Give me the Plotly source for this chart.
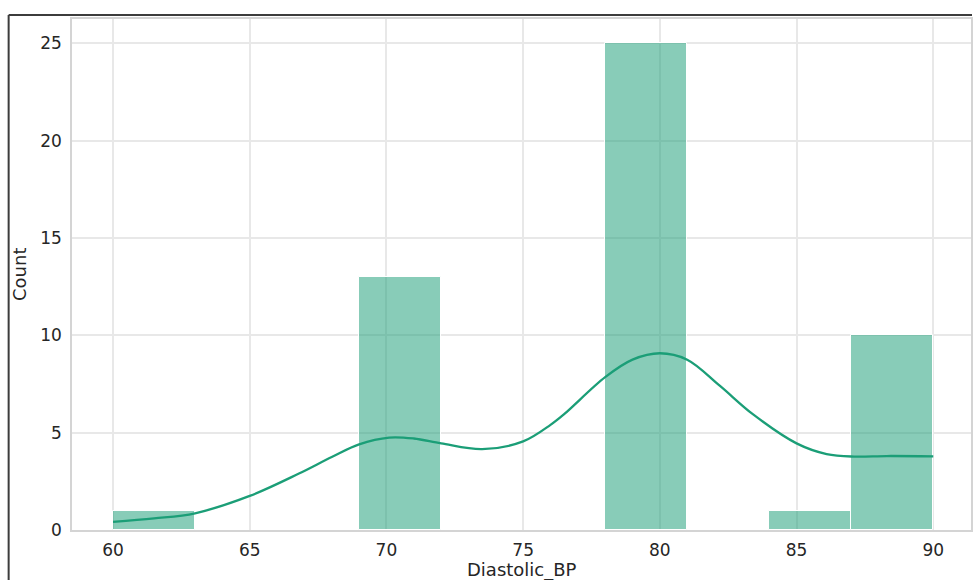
import plotly.graph_objects as go

# ---- data ----
bin_edges = [60, 63, 66, 69, 72, 75, 78, 81, 84, 87, 90]
counts = [1, 0, 0, 13, 0, 0, 25, 0, 1, 10]

kde_x = [60.0, 61.5, 63.0, 65.0, 66.8, 68.0, 69.0, 70.1, 71.0, 72.0, 73.5, 75.0,
         76.0, 76.5, 78.0, 79.0, 80.0, 81.0, 82.2, 83.4, 85.0, 86.1, 87.1, 88.3, 90.0]
kde_y = [0.42, 0.6, 0.86, 1.75, 2.9, 3.75, 4.4, 4.75, 4.7, 4.45, 4.15, 4.55,
         5.4, 5.95, 7.85, 8.75, 9.08, 8.75, 7.4, 5.95, 4.45, 3.9, 3.77, 3.8, 3.78]

x_ticks = [60, 65, 70, 75, 80, 85, 90]
y_ticks = [0, 5, 10, 15, 20, 25]
x_label = "Diastolic_BP"
y_label = "Count"

# ---- style ----
COLOR = "#1b9e77"
W, H = 974, 580
ML, MR, MT, MB = 72, 1, 19, 50
FONT = "DejaVu Sans"
TXT = "#262626"

centers = [(a + b) / 2 for a, b in zip(bin_edges[:-1], bin_edges[1:])]
widths = [b - a for a, b in zip(bin_edges[:-1], bin_edges[1:])]
bx = [c for c, n in zip(centers, counts) if n > 0]
bw = [w for w, n in zip(widths, counts) if n > 0]
by = [n for n in counts if n > 0]

fig = go.Figure()
fig.add_trace(go.Bar(
    x=bx, y=by, width=bw,
    marker=dict(color="rgba(27,158,119,0.52)", line=dict(color="white", width=1)),
    showlegend=False, hoverinfo="x+y",
))
fig.add_trace(go.Scatter(
    x=kde_x, y=kde_y, mode="lines",
    line=dict(color=COLOR, width=2.3, shape="spline", smoothing=1.0),
    showlegend=False,
))

plot_w = W - ML - MR
plot_h = H - MT - MB

axis_common = dict(
    showgrid=True, gridcolor="#e8e8e8", gridwidth=1.5,
    showline=True, linecolor="#d4d4d4", linewidth=1.5, mirror=True,
    zeroline=False, ticks="",
    tickfont=dict(family=FONT, size=17, color=TXT),
)

fig.update_layout(
    width=W, height=H,
    margin=dict(l=ML, r=MR, t=MT, b=MB, pad=0),
    paper_bgcolor="white", plot_bgcolor="white",
    bargap=0,
    font=dict(family=FONT, color=TXT),
    xaxis=dict(range=[58.5, 91.38], tickvals=x_ticks, ticklabelstandoff=4, **axis_common),
    yaxis=dict(range=[0, 26.25], tickvals=y_ticks, ticklabelstandoff=5, **axis_common),
    annotations=[
        dict(text=x_label, xref="paper", yref="paper", x=0.5, y=0,
             xanchor="center", yanchor="middle", yshift=-39.5, showarrow=False,
             font=dict(family=FONT, size=18, color=TXT)),
        dict(text=y_label, xref="paper", yref="paper", x=0, y=0.5,
             xanchor="center", yanchor="middle", xshift=-(ML - 19.5), textangle=-90,
             showarrow=False, font=dict(family=FONT, size=18, color=TXT)),
    ],
    shapes=[
        # screenshot frame (top and left edges)
        dict(type="line", xref="paper", yref="paper",
             x0=(8.5 - ML) / plot_w, x1=(W - ML) / plot_w,
             y0=(H - MB - 15) / plot_h, y1=(H - MB - 15) / plot_h,
             line=dict(color="#3c3c3c", width=2), layer="above"),
        dict(type="line", xref="paper", yref="paper",
             x0=(8.5 - ML) / plot_w, x1=(8.5 - ML) / plot_w,
             y0=(H - MB - 15) / plot_h, y1=-MB / plot_h,
             line=dict(color="#3c3c3c", width=2), layer="above"),
    ],
)

fig.write_html("out.html")
